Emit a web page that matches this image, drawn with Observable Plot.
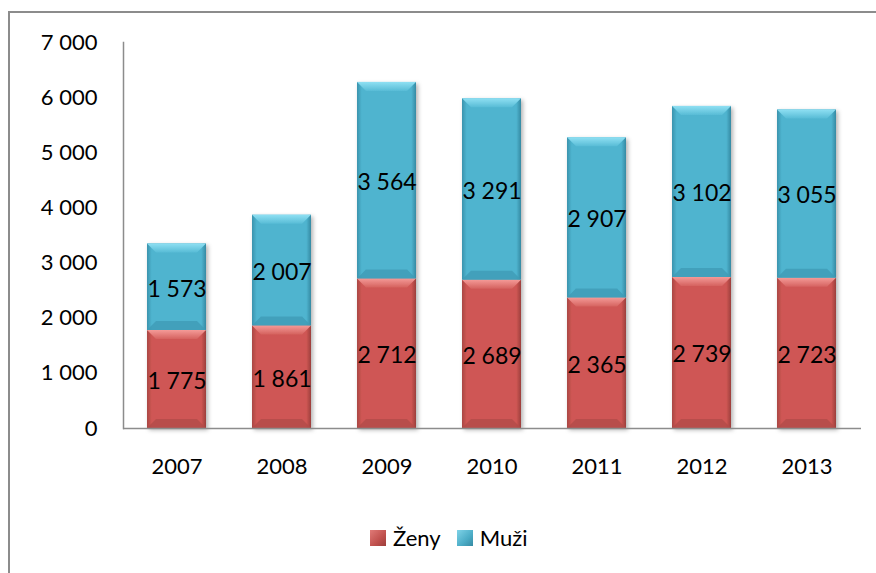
<!DOCTYPE html>
<html>
<head>
<meta charset="utf-8">
<script src="https://cdn.jsdelivr.net/npm/d3@7"></script>
<script src="https://cdn.jsdelivr.net/npm/@observablehq/plot@0.6"></script>
<style>
  html, body { margin: 0; padding: 0; background: #fff; }
  body { width: 876px; height: 573px; position: relative; overflow: hidden; font-family: Lato, "Open Sans", sans-serif; }
  #frame { position: absolute; left: 8px; top: 11px; width: 900px; height: 600px; border-left: 2px solid #8c8c8c; border-top: 2px solid #8c8c8c; box-sizing: border-box; }
  #chart { position: absolute; left: 0; top: 0; }
  #legend { position: absolute; left: 370px; top: 524px; display: flex; align-items: center; font-size: 22px; color: #000; }
  .sw { width: 16px; height: 16px; display: inline-block; margin-right: 7px; box-sizing: border-box; }
  .item { display: flex; align-items: center; margin-right: 16px; }
</style>
</head>
<body>
<div id="frame"></div>
<div id="chart"></div>
<div id="legend"></div>
<script>
const years = ["2007", "2008", "2009", "2010", "2011", "2012", "2013"];
const series = ["Ženy", "Muži"];
const zeny = [1775, 1861, 2712, 2689, 2365, 2739, 2723];
const muzi = [1573, 2007, 3564, 3291, 2907, 3102, 3055];
const yTicks = [0, 1000, 2000, 3000, 4000, 5000, 6000, 7000];

const data = [
  ...years.map((y, i) => ({year: y, series: "Ženy", value: zeny[i]})),
  ...years.map((y, i) => ({year: y, series: "Muži", value: muzi[i]}))
];

const fmt = d => d3.format(",")(d).replace(/,/g, " ");
const fills = {"Ženy": "url(#gRed)", "Muži": "url(#gBlue)"};

const chart = Plot.plot({
  width: 876,
  height: 480,
  marginLeft: 123,
  marginRight: 15,
  marginTop: 42,
  marginBottom: 52,
  style: {fontFamily: "Lato, 'Open Sans', sans-serif", fontSize: "22px", background: "transparent", color: "#000", overflow: "visible"},
  x: {domain: years, paddingInner: 0.434, paddingOuter: 0.2, label: null, tickSize: 0, tickPadding: 30},
  y: {domain: [0, 7000], ticks: yTicks, tickFormat: fmt, label: null, tickSize: 0, tickPadding: 26},
  marks: [
    Plot.barY(data, {x: "year", y: "value", z: "series", fill: d => fills[d.series], className: "bars"}),
    Plot.text(data, Plot.stackY({x: "year", y: "value", z: "series", text: d => fmt(d.value), fill: "#000", fontSize: 23, dy: 2})),
    Plot.frame({anchor: "left", stroke: "#8c8c8c", strokeWidth: 1.5}),
    Plot.ruleY([0], {stroke: "#8c8c8c", strokeWidth: 1.5})
  ]
});

// gradients for Excel-like bevel look
const svg = d3.select(chart);
const defs = svg.insert("defs", ":first-child");
function grad(id, stops, vertical) {
  const g = defs.append("linearGradient").attr("id", id)
    .attr("x1", 0).attr("y1", 0).attr("x2", vertical ? 0 : 1).attr("y2", vertical ? 1 : 0);
  stops.forEach(([o, c]) => g.append("stop").attr("offset", o).attr("stop-color", c));
}
grad("gRed", [[0, "#a94643"], [0.08, "#cf5754"], [0.92, "#cf5754"], [1, "#9c3f3c"]]);
grad("gBlue", [[0, "#3a93ad"], [0.08, "#4fb4cf"], [0.92, "#4fb4cf"], [1, "#368aa3"]]);
grad("tRed", [[0, "#f49a97"], [1, "#d5625f"]], true);
grad("tBlue", [[0, "#8fe0f3"], [1, "#58bcd6"]], true);
const f = defs.append("filter").attr("id", "shadow").attr("x", "-20%").attr("y", "-5%").attr("width", "140%").attr("height", "115%");
f.append("feDropShadow").attr("dx", 2).attr("dy", 2).attr("stdDeviation", 2).attr("flood-color", "#000").attr("flood-opacity", 0.3);

const barG = svg.select("g.bars");
barG.attr("filter", "url(#shadow)");
barG.selectAll("rect").each(function() {
  const r = d3.select(this);
  const x = +r.attr("x"), y = +r.attr("y"), w = +r.attr("width"), h = +r.attr("height");
  const isRed = r.attr("fill").includes("Red");
  const t = 9;
  d3.select(this.parentNode).append("path")
    .attr("d", `M${x},${y}L${x + w},${y}L${x + w - t},${y + t}L${x + t},${y + t}Z`)
    .attr("fill", isRed ? "url(#tRed)" : "url(#tBlue)");
  d3.select(this.parentNode).append("path")
    .attr("d", `M${x},${y + h}L${x + w},${y + h}L${x + w - t},${y + h - t}L${x + t},${y + h - t}Z`)
    .attr("fill", isRed ? "#b24b48" : "#3e9bb5").attr("opacity", 0.8);
});
document.getElementById("chart").appendChild(chart);

// legend
const leg = d3.select("#legend");
const swatchStyle = {"Ženy": "background: linear-gradient(135deg,#e07a77,#c0504d 60%,#9c3f3c);", "Muži": "background: linear-gradient(135deg,#7fd3e8,#4bacc6 60%,#368aa3);"};
series.forEach(s => {
  const it = leg.append("div").attr("class", "item");
  it.append("span").attr("class", "sw").attr("style", swatchStyle[s]);
  it.append("span").text(s);
});
</script>
</body>
</html>
